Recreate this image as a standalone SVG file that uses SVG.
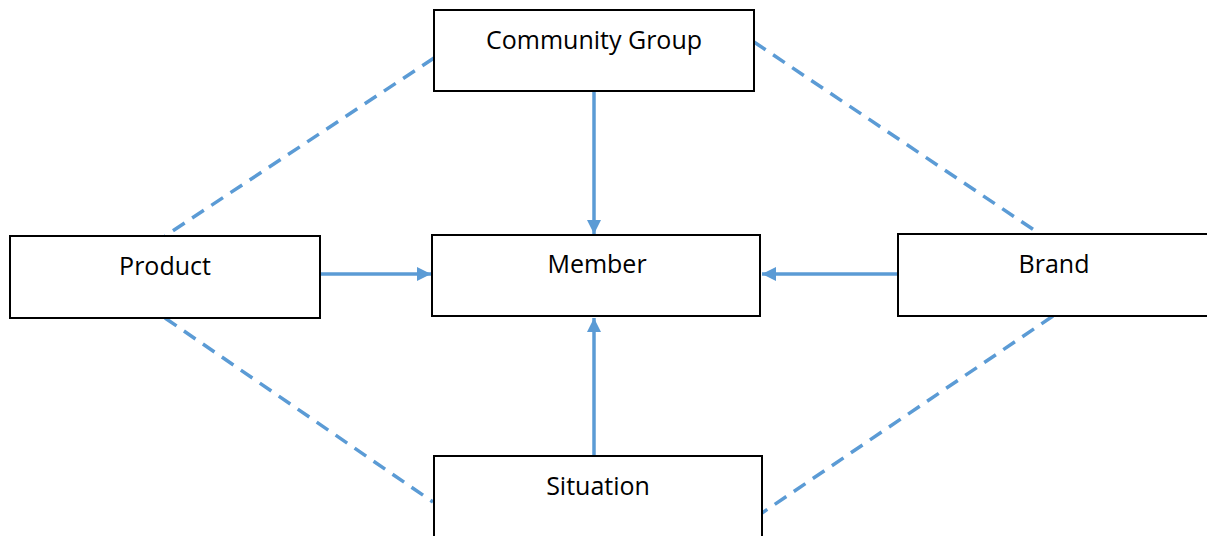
<svg xmlns="http://www.w3.org/2000/svg" width="1207" height="536" viewBox="0 0 1207 536">
<style>
.box{fill:#fff;stroke:#000;stroke-width:2}
.lbl{font-family:"Open Sans","Liberation Sans",sans-serif;font-size:25px;fill:#000;text-anchor:middle}
.arr{stroke:#5B9BD5;stroke-width:3.5;fill:none}
.dash{stroke:#5B9BD5;stroke-width:3.5;fill:none;stroke-dasharray:14 9}
</style>
<defs>
<marker id="ah" viewBox="0 0 10 10" refX="10" refY="5" markerWidth="4.4" markerHeight="4" markerUnits="strokeWidth" orient="auto">
<path d="M0,0 L10,5 L0,10 z" fill="#5B9BD5"/>
</marker>
</defs>
<g id="connectors">
<line class="dash" x1="434" y1="58" x2="165" y2="236"/>
<line class="dash" x1="754" y1="42" x2="1040" y2="234"/>
<line class="dash" x1="165" y1="318" x2="433" y2="502"/>
<line class="dash" x1="1053" y1="316" x2="762" y2="513"/>
<line class="arr" x1="594" y1="91" x2="594" y2="234" marker-end="url(#ah)"/>
<line class="arr" x1="320" y1="274" x2="431" y2="274" marker-end="url(#ah)"/>
<line class="arr" x1="898" y1="274" x2="762" y2="274" marker-end="url(#ah)"/>
<line class="arr" x1="594" y1="456" x2="594" y2="318" marker-end="url(#ah)"/>
</g>
<g id="community"><rect class="box" x="434" y="10" width="320" height="81"/><text class="lbl" x="594" y="49">Community Group</text></g>
<g id="product"><rect class="box" x="10" y="236" width="310" height="82"/><text class="lbl" x="165" y="275">Product</text></g>
<g id="member"><rect class="box" x="432" y="235" width="328" height="81"/><text class="lbl" x="597" y="273">Member</text></g>
<g id="brand"><rect class="box" x="898" y="234" width="310" height="82"/><text class="lbl" x="1054" y="273">Brand</text></g>
<g id="situation"><rect class="box" x="434" y="456" width="328" height="90"/><text class="lbl" x="598" y="495">Situation</text></g>
</svg>
